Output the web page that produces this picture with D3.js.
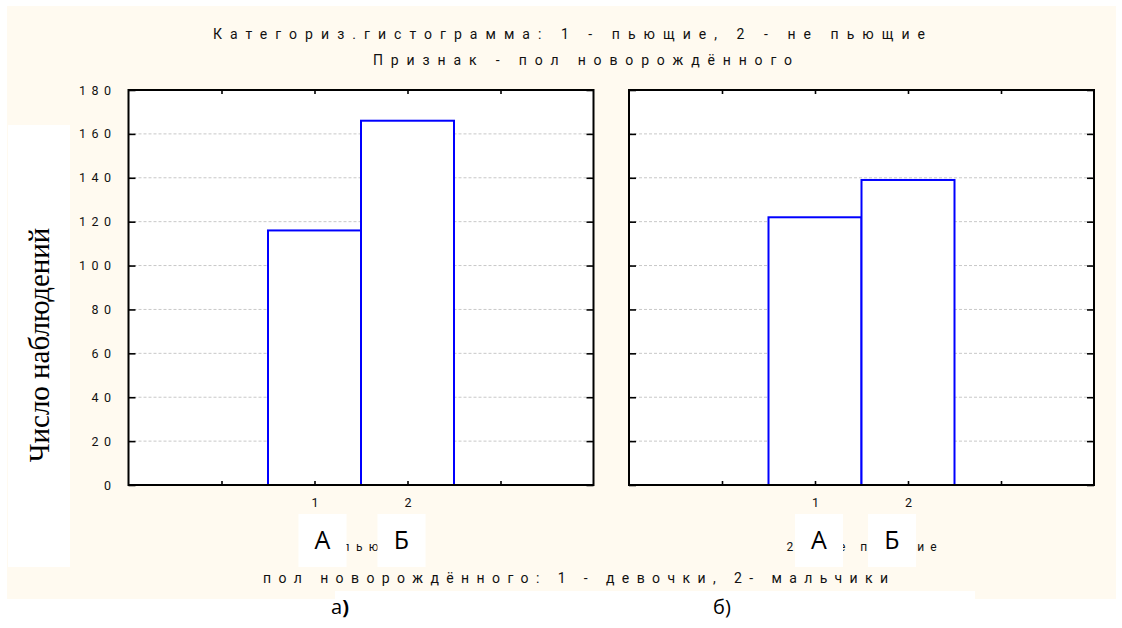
<!DOCTYPE html>
<meta charset="utf-8">
<style>
body { margin: 0; background: #fff; }
.narrow { font-family: "Liberation Sans Narrow", "Arial Narrow", "Roboto", sans-serif; fill: #111; }
.grid line { stroke: #c8c8c8; stroke-dasharray: 3,2; }
.axis path { display: none; }
.axis line { stroke: #000; stroke-width: 1.6px; }
.bar { fill: #fff; stroke: #0000ff; stroke-width: 2px; }
.frame { fill: none; stroke: #000; stroke-width: 2px; }
</style>
<svg width="1122" height="628"></svg>
<script src="https://d3js.org/d3.v7.min.js"></script>
<script>

// data
var panelNames = ["1 - пьющие", "2 - не пьющие"];
var sexCodes = [1, 2];
var drinkersCounts = [116, 166];
var nonDrinkersCounts = [122, 139];
var yTickValues = [0, 20, 40, 60, 80, 100, 120, 140, 160, 180];
var xTickValues = [0, 1, 2, 3];
var markLetters = ["А", "Б"];

var titleLine1 = "Категориз.гистограмма: 1 - пьющие, 2 - не пьющие";
var titleLine2 = "Признак - пол новорождённого";
var xTitle = "пол новорождённого: 1 - девочки, 2- мальчики";
var yTitle = "Число наблюдений";

var series = [drinkersCounts, nonDrinkersCounts];

var svg = d3.select("svg"),
    panelX = [128.5, 629],
    panelW = 465,
    plotTop = 90,
    plotBottom = 485;

var y = d3.scaleLinear().domain([0, 180]).range([plotBottom, plotTop]);

// backgrounds
svg.append("rect").attr("x", 7).attr("y", 6).attr("width", 1109).attr("height", 593).attr("fill", "#fffaf0");
svg.append("rect").attr("x", 335).attr("y", 591).attr("width", 640).attr("height", 37).attr("fill", "#fff");
svg.append("rect").attr("x", 8).attr("y", 125).attr("width", 62).attr("height", 442).attr("fill", "#fff");

series.forEach(function(counts, p) {
  var x = d3.scaleLinear().domain([-1, 4]).range([panelX[p], panelX[p] + panelW]);
  var g = svg.append("g");

  g.append("rect")
      .attr("x", x(-1)).attr("y", plotTop)
      .attr("width", panelW).attr("height", plotBottom - plotTop)
      .attr("fill", "#fff");

  g.append("g")
      .attr("class", "grid")
    .selectAll("line")
    .data(yTickValues.slice(1, -1))
    .enter().append("line")
      .attr("x1", x(-1)).attr("x2", x(4))
      .attr("y1", function(d) { return y(d); })
      .attr("y2", function(d) { return y(d); });

  g.selectAll(".bar")
    .data(counts)
    .enter().append("rect")
      .attr("class", "bar")
      .attr("x", function(d, i) { return x(sexCodes[i] - 0.5); })
      .attr("width", function(d, i) { return x(sexCodes[i] + 0.5) - x(sexCodes[i] - 0.5); })
      .attr("y", function(d) { return y(d); })
      .attr("height", function(d) { return plotBottom - y(d); });

  // inward ticks on all four sides
  g.append("g").attr("class", "axis")
      .attr("transform", "translate(" + x(-1) + ",0)")
      .call(d3.axisLeft(y).tickValues(yTickValues).tickSize(-7).tickFormat(""));
  g.append("g").attr("class", "axis")
      .attr("transform", "translate(" + x(4) + ",0)")
      .call(d3.axisRight(y).tickValues(yTickValues).tickSize(-7).tickFormat(""));
  g.append("g").attr("class", "axis")
      .attr("transform", "translate(0," + plotTop + ")")
      .call(d3.axisTop(x).tickValues(xTickValues).tickSize(-4).tickFormat(""));
  var xb = g.append("g").attr("class", "axis")
      .attr("transform", "translate(0," + plotBottom + ")")
      .call(d3.axisBottom(x).tickValues(xTickValues).tickSize(-4).tickPadding(13)
        .tickFormat(function(d) { return sexCodes.indexOf(d) >= 0 ? d : ""; }));
  xb.selectAll("text").attr("class", "narrow").attr("font-size", 12.5).attr("fill", "#111");

  g.append("rect")
      .attr("class", "frame")
      .attr("x", x(-1)).attr("y", plotTop)
      .attr("width", panelW).attr("height", plotBottom - plotTop);

  if (p === 0) {
    var ya = g.append("g").attr("class", "axis")
        .attr("transform", "translate(" + x(-1) + ",0)")
        .call(d3.axisLeft(y).tickValues(yTickValues).tickSize(0).tickPadding(12));
    ya.selectAll("line").remove();
    ya.selectAll("text")
        .attr("class", "narrow")
        .attr("font-size", 12.5)
        .attr("fill", "#111")
        .style("letter-spacing", "5.5px")
        .text(function(d) { return d; });
  }

  // panel caption, mostly hidden under the letter boxes
  var cx = x(1.5);
  g.append("text")
      .attr("class", "narrow")
      .attr("x", cx - (p === 0 ? 60 : 75))
      .attr("y", 551)
      .attr("font-size", 12)
      .attr("textLength", p === 0 ? 120 : 150)
      .attr("lengthAdjust", "spacing")
      .text(panelNames[p]);

  // letter boxes А / Б
  var boxCenters = p === 0 ? [x(1) + 8, x(2) - 6] : [x(1) + 4, x(2) - 16];
  boxCenters.forEach(function(c, i) {
    g.append("rect")
        .attr("x", c - 24).attr("y", 514)
        .attr("width", 48).attr("height", 53)
        .attr("fill", "#fff");
    g.append("text")
        .attr("x", c).attr("y", 549)
        .attr("text-anchor", "middle")
        .attr("font-family", "'Open Sans', 'Noto Sans', sans-serif")
        .attr("font-size", 25)
        .attr("fill", "#000")
        .text(markLetters[i]);
  });
});

// titles
svg.append("text").attr("class", "narrow")
    .attr("x", 213).attr("y", 39).attr("font-size", 14)
    .attr("textLength", 712).attr("lengthAdjust", "spacing")
    .text(titleLine1);
svg.append("text").attr("class", "narrow")
    .attr("x", 373).attr("y", 65).attr("font-size", 14)
    .attr("textLength", 419).attr("lengthAdjust", "spacing")
    .text(titleLine2);
svg.append("text").attr("class", "narrow")
    .attr("x", 263).attr("y", 583).attr("font-size", 14)
    .attr("textLength", 625).attr("lengthAdjust", "spacing")
    .text(xTitle);

svg.append("text")
    .attr("transform", "translate(49,345) rotate(-90)")
    .attr("text-anchor", "middle")
    .attr("font-family", "'Liberation Serif', 'Times New Roman', serif")
    .attr("font-size", 29)
    .attr("fill", "#000")
    .text(yTitle);

// sub-figure labels
var subLabels = [["а", 331], ["б", 713]];
subLabels.forEach(function(s) {
  var t = svg.append("text")
      .attr("x", s[1]).attr("y", 614)
      .attr("font-family", "'Open Sans', 'Noto Sans', sans-serif")
      .attr("font-size", 20)
      .attr("fill", "#000");
  t.append("tspan").text(s[0]);
  t.append("tspan").attr("font-weight", s[0] === "а" ? "bold" : "normal").text(")");
});

</script>
